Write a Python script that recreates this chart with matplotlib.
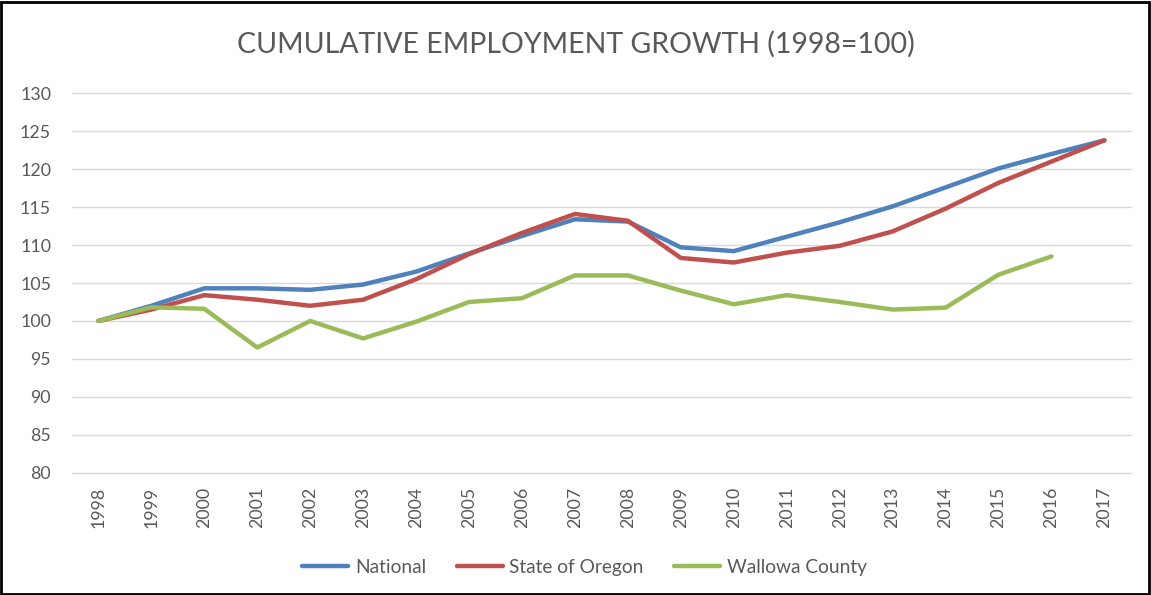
import matplotlib.pyplot as plt
from matplotlib.patches import Rectangle

years = [str(y) for y in range(1998, 2018)]

national = [100, 102.0, 104.3, 104.3, 104.1, 104.8, 106.5, 108.9, 111.2, 113.4,
            113.1, 109.7, 109.2, 111.1, 113.0, 115.1, 117.6, 120.1, 122.0, 123.8]
oregon = [100, 101.5, 103.4, 102.8, 102.0, 102.8, 105.5, 108.8, 111.6, 114.1,
          113.2, 108.3, 107.7, 109.0, 109.9, 111.8, 114.8, 118.2, 121.0, 123.8]
wallowa = [100, 101.8, 101.6, 96.5, 100.0, 97.7, 99.9, 102.5, 103.0, 106.0,
           106.0, 104.0, 102.2, 103.4, 102.5, 101.5, 101.75, 106.1, 108.5]

series_names = ['National', 'State of Oregon', 'Wallowa County']
colors = ['#4F81BD', '#C0504D', '#9BBB59']

txt = '#595959'
plt.rcParams['font.family'] = ['Lato', 'DejaVu Sans']

fig = plt.figure(figsize=(11.51, 5.95), dpi=100)
ax = fig.add_axes([0.0625, 0.2055, 0.92, 0.6377])

for vals, name, c in zip([national, oregon, wallowa], series_names, colors):
    ax.plot(years[:len(vals)], vals, color=c, lw=3.2, label=name,
            solid_capstyle='round', solid_joinstyle='round')

ax.set_ylim(80, 130)
ax.set_yticks(range(80, 131, 5))
ax.set_xlim(-0.5, len(years) - 0.5)
ax.grid(axis='y', color='#D9D9D9', lw=1)
for gl in ax.get_ygridlines():
    gl.set_clip_on(False)
ax.set_axisbelow(True)
for s in ax.spines.values():
    s.set_visible(False)
ax.tick_params(length=0, colors=txt, labelsize=12.8)
ax.tick_params(axis='x', rotation=90, pad=10)
ax.tick_params(axis='y', pad=15)

fig.suptitle('CUMULATIVE EMPLOYMENT GROWTH (1998=100)', y=0.948,
             fontsize=20.5, color=txt)

leg = fig.legend(loc='center', bbox_to_anchor=(0.508, 0.047), ncol=3,
                 frameon=False, fontsize=13.8, handlelength=2.4,
                 columnspacing=1.6, handletextpad=0.35)
for t in leg.get_texts():
    t.set_color(txt)

fig.add_artist(Rectangle((0.001, 0.002), 0.997, 0.995, transform=fig.transFigure,
                         fill=False, edgecolor='black', lw=2))

fig.savefig('out.png', dpi=100)
